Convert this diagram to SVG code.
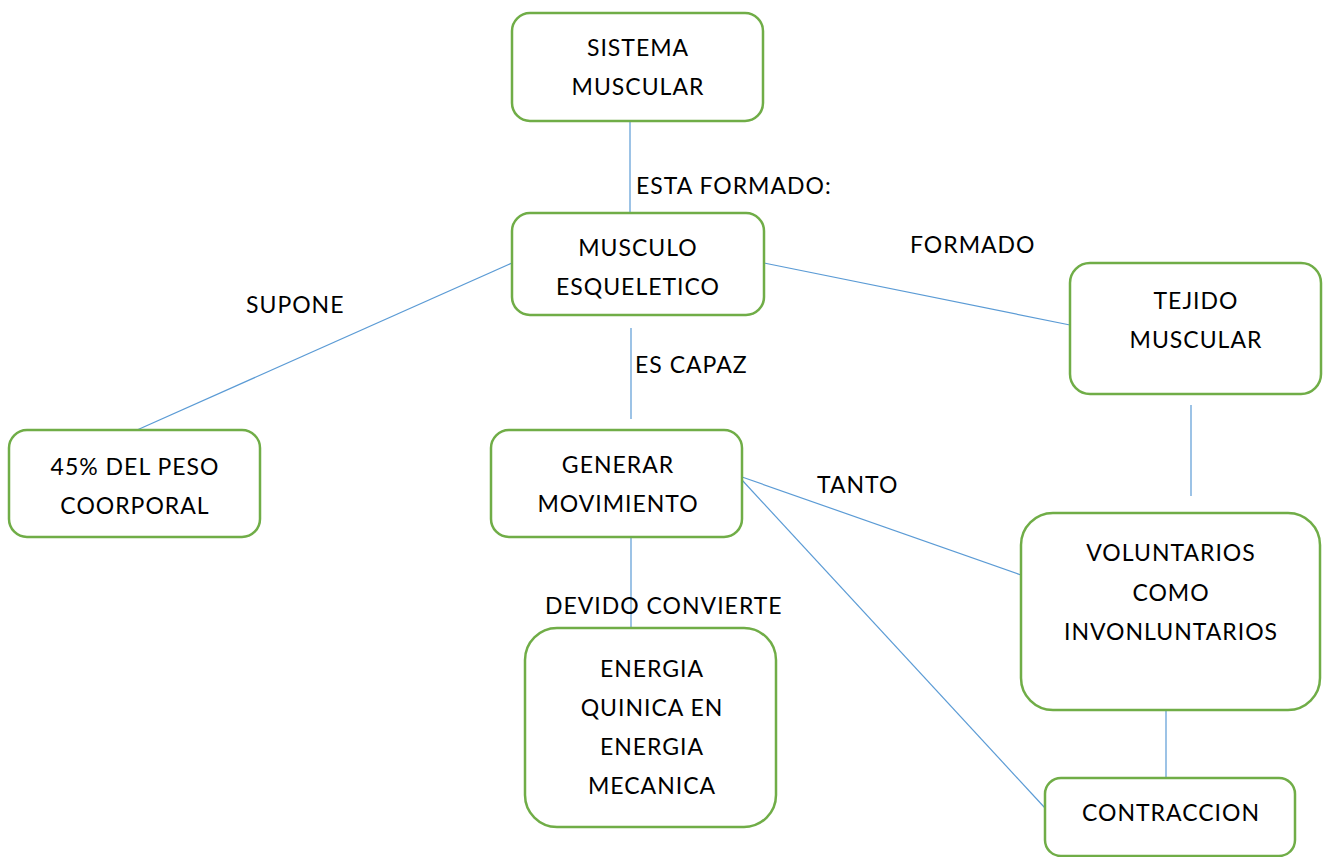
<svg xmlns="http://www.w3.org/2000/svg" width="1324" height="857" viewBox="0 0 1324 857">
<style>
.box{fill:#fff;stroke:#70AD47;stroke-width:2.5}
.t{font-family:Lato,"Open Sans","Liberation Sans",sans-serif;font-size:23px;letter-spacing:1px;fill:#000;text-anchor:middle}
.l{font-family:Lato,"Open Sans","Liberation Sans",sans-serif;font-size:23px;letter-spacing:1px;fill:#000}
.c{stroke:#5B9BD5;stroke-width:1.2;fill:none}
</style>
<rect width="1324" height="857" fill="#fff"/>
<g id="connectors">
<line class="c" x1="630" y1="121" x2="630" y2="213"/>
<line class="c" x1="512" y1="263" x2="137" y2="430"/>
<line class="c" x1="764" y1="263" x2="1070" y2="325"/>
<line class="c" x1="631" y1="328" x2="631" y2="419"/>
<line class="c" x1="1191" y1="405" x2="1191" y2="496"/>
<line class="c" x1="631" y1="537" x2="631" y2="628"/>
<line class="c" x1="742" y1="477" x2="1021" y2="575"/>
<line class="c" x1="742" y1="480" x2="1045" y2="808"/>
<line class="c" x1="1166" y1="710" x2="1166" y2="778"/>
<text class="l" x="636" y="194">ESTA FORMADO:</text>
<text class="l" x="910" y="253">FORMADO</text>
<text class="l" x="246" y="313">SUPONE</text>
<text class="l" x="635" y="373">ES CAPAZ</text>
<text class="l" x="817" y="493">TANTO</text>
<text class="l" x="545" y="614">DEVIDO CONVIERTE</text>
</g>
<g id="sistema">
<rect class="box" x="512" y="13" width="251" height="108" rx="18"/>
<text class="t" x="638" y="56">SISTEMA</text>
<text class="t" x="638" y="95">MUSCULAR</text>
</g>
<g id="musculo">
<rect class="box" x="512" y="213" width="252" height="102" rx="18"/>
<text class="t" x="638" y="256">MUSCULO</text>
<text class="t" x="638" y="295">ESQUELETICO</text>
</g>
<g id="tejido">
<rect class="box" x="1070" y="263" width="251" height="131" rx="20"/>
<text class="t" x="1196" y="309">TEJIDO</text>
<text class="t" x="1196" y="348">MUSCULAR</text>
</g>
<g id="peso">
<rect class="box" x="9" y="430" width="251" height="107" rx="18"/>
<text class="t" x="135" y="475">45% DEL PESO</text>
<text class="t" x="135" y="514">COORPORAL</text>
</g>
<g id="generar">
<rect class="box" x="491" y="430" width="251" height="107" rx="18"/>
<text class="t" x="618" y="473">GENERAR</text>
<text class="t" x="618" y="512">MOVIMIENTO</text>
</g>
<g id="voluntarios">
<rect class="box" x="1021" y="513" width="299" height="197" rx="32"/>
<text class="t" x="1171" y="561">VOLUNTARIOS</text>
<text class="t" x="1171" y="601">COMO</text>
<text class="t" x="1171" y="640">INVONLUNTARIOS</text>
</g>
<g id="energia">
<rect class="box" x="525" y="628" width="251" height="199" rx="32"/>
<text class="t" x="652" y="677">ENERGIA</text>
<text class="t" x="652" y="716">QUINICA EN</text>
<text class="t" x="652" y="755">ENERGIA</text>
<text class="t" x="652" y="794">MECANICA</text>
</g>
<g id="contraccion">
<rect class="box" x="1045" y="778" width="250" height="78" rx="16"/>
<text class="t" x="1171" y="821">CONTRACCION</text>
</g>
</svg>
